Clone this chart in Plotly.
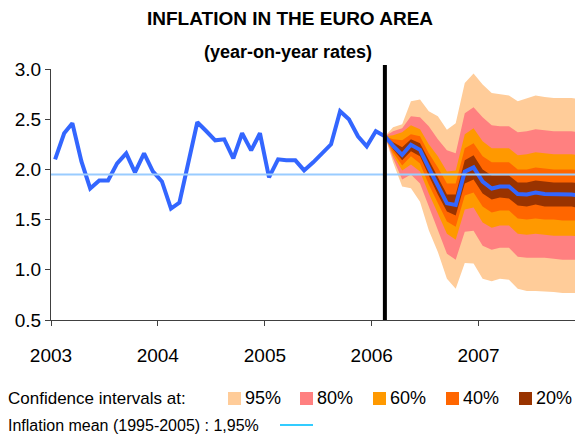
import pandas as pd
import plotly.graph_objects as go

# ---------------- data ----------------
# monthly observations, Jan 2003 .. Feb 2006 (year-on-year %, HICP)
HIST = [2.10, 2.36, 2.46, 2.08, 1.81, 1.89, 1.89, 2.06, 2.16, 1.97, 2.16, 1.98,
        1.88, 1.61, 1.67, 2.07, 2.47, 2.38, 2.29, 2.30, 2.11, 2.36, 2.19, 2.36,
        1.92, 2.10, 2.09, 2.09, 1.99, 2.07, 2.16, 2.25, 2.58, 2.50, 2.33, 2.23,
        2.38, 2.33]
# projection, Feb 2006 .. Dec 2007
PROJ = [2.33, 2.235, 2.145, 2.245, 2.195, 2.015, 1.835, 1.662, 1.645, 1.978, 2.02, 1.878,
        1.81, 1.83, 1.83, 1.755, 1.75, 1.77, 1.755, 1.75, 1.75, 1.75, 1.735]
UP95 = [2.33, 2.42, 2.45, 2.68, 2.695, 2.58, 2.53, 2.395, 2.46, 2.86, 2.955, 2.845,
        2.76, 2.745, 2.735, 2.68, 2.71, 2.735, 2.72, 2.71, 2.71, 2.71, 2.70]
LO95 = [2.33, 2.07, 1.83, 1.812, 1.678, 1.395, 1.178, 0.912, 0.812, 1.068, 1.062, 0.912,
        0.885, 0.912, 0.902, 0.812, 0.788, 0.788, 0.785, 0.778, 0.768, 0.768, 0.768]
UP80 = [2.33, 2.38, 2.41, 2.53, 2.52, 2.43, 2.30, 2.19, 2.16, 2.56, 2.62, 2.52,
        2.44, 2.43, 2.43, 2.37, 2.38, 2.40, 2.39, 2.38, 2.38, 2.38, 2.37]
LO80 = [2.33, 2.11, 1.90, 1.95, 1.86, 1.62, 1.40, 1.16, 1.10, 1.38, 1.39, 1.24,
        1.20, 1.22, 1.22, 1.13, 1.12, 1.12, 1.12, 1.11, 1.10, 1.10, 1.10]
UP60 = [2.33, 2.34, 2.37, 2.44, 2.40, 2.25, 2.13, 1.98, 1.99, 2.35, 2.41, 2.28,
        2.21, 2.21, 2.21, 2.14, 2.15, 2.17, 2.16, 2.15, 2.15, 2.15, 2.14]
LO60 = [2.33, 2.14, 1.99, 2.05, 1.98, 1.76, 1.56, 1.36, 1.30, 1.60, 1.62, 1.47,
        1.42, 1.44, 1.44, 1.36, 1.35, 1.36, 1.35, 1.34, 1.34, 1.34, 1.33]
UP40 = [2.33, 2.30, 2.29, 2.35, 2.33, 2.16, 2.02, 1.86, 1.86, 2.21, 2.26, 2.13,
        2.07, 2.07, 2.07, 2.00, 2.00, 2.02, 2.01, 2.00, 2.00, 2.00, 1.99]
LO40 = [2.33, 2.17, 2.04, 2.13, 2.06, 1.85, 1.66, 1.48, 1.43, 1.74, 1.77, 1.63,
        1.57, 1.59, 1.59, 1.51, 1.50, 1.51, 1.50, 1.50, 1.49, 1.49, 1.49]
UP20 = [2.33, 2.27, 2.22, 2.30, 2.26, 2.09, 1.92, 1.75, 1.75, 2.09, 2.14, 2.00,
        1.94, 1.94, 1.94, 1.87, 1.87, 1.89, 1.88, 1.87, 1.87, 1.87, 1.86]
LO20 = [2.33, 2.20, 2.09, 2.18, 2.13, 1.94, 1.75, 1.58, 1.54, 1.86, 1.90, 1.76,
        1.70, 1.72, 1.71, 1.64, 1.63, 1.65, 1.63, 1.63, 1.63, 1.63, 1.61]
INFLATION_MEAN = 1.95
BAND_LABELS = ["95%", "80%", "60%", "40%", "20%"]
START = "2003-01-01"
N_MONTHS = len(HIST) + len(PROJ) - 1
CUTOFF = "2006-02-15"

# ---------------- styling ----------------
BAND_COLORS = ["#FFCC99", "#FF8080", "#FF9900", "#FF6600", "#993300"]
LINE_BLUE = "#3366FF"
MEAN_COLOR = "#99CCFF"
FONT = "Liberation Sans, Arial, sans-serif"

dates = list(pd.date_range(START, periods=N_MONTHS, freq="MS") + pd.Timedelta(days=14))
proj_dates = dates[len(HIST) - 1:]

fig = go.Figure()
bands = [(UP95, LO95), (UP80, LO80), (UP60, LO60), (UP40, LO40), (UP20, LO20)]
for (up, lo), col in zip(bands, BAND_COLORS):
    fig.add_trace(go.Scatter(
        x=proj_dates + proj_dates[::-1], y=up + lo[::-1],
        fill="toself", fillcolor=col, mode="lines", line=dict(width=0, color=col),
        hoverinfo="skip", showlegend=False))

fig.add_trace(go.Scatter(x=dates, y=HIST + PROJ[1:], mode="lines",
                         line=dict(color=LINE_BLUE, width=4), showlegend=False))

fig.add_hline(y=INFLATION_MEAN, line=dict(color=MEAN_COLOR, width=2), layer="above")
fig.add_shape(type="line", xref="x", yref="paper", x0=CUTOFF, x1=CUTOFF, y0=0, y1=1.016,
              line=dict(color="black", width=4), layer="above")

# page body has an 8px margin, so the figure is drawn 8px in from the corner
OFF = 8
W, H = 583 - OFF, 437 - OFF
L, T = 51 - OFF, 69 - OFF          # plot area left/top in figure pixels
PW, PH = 532, 251
R, B = W - L - PW, H - T - PH

# helper: reference-image pixel -> paper coordinate
def px(x):
    return (x - 51) / PW


def py(y):
    return (320 - y) / PH


ann = [
    dict(text="<b>INFLATION IN THE EURO AREA</b>", x=px(290), y=py(19),
         font=dict(family=FONT, size=19, color="black")),
    dict(text="<b>(year-on-year rates)</b>", x=px(288), y=py(52),
         font=dict(family=FONT, size=18, color="black")),
    dict(text="Confidence intervals at:", x=px(6), y=py(398), xanchor="left",
         font=dict(family=FONT, size=17, color="black")),
    dict(text="Inflation mean (1995-2005) : 1,95%", x=px(6), y=py(425), xanchor="left",
         font=dict(family=FONT, size=16, color="black")),
]
sq_left = [228, 300, 373, 446, 519]
for lab, col, sx in zip(BAND_LABELS, BAND_COLORS, sq_left):
    fig.add_shape(type="rect", xref="paper", yref="paper", x0=px(sx), x1=px(sx + 13),
                  y0=py(405), y1=py(392), fillcolor=col, line=dict(width=0))
    ann.append(dict(text=lab, x=px(sx + 15), y=py(398), xanchor="left",
                    font=dict(family=FONT, size=18, color="black")))
fig.add_shape(type="line", xref="paper", yref="paper", x0=px(280), x1=px(313),
              y0=py(425), y1=py(425), line=dict(color="#33CCFF", width=2))
for a in ann:
    a.setdefault("xanchor", "center")
    a.update(xref="paper", yref="paper", yanchor="middle", showarrow=False)
fig.update_layout(annotations=ann)

fig.update_layout(
    width=W, height=H, autosize=False,
    margin=dict(l=L, r=R, t=T, b=B, pad=0),
    paper_bgcolor="white", plot_bgcolor="white",
    font=dict(family=FONT, size=19, color="black"),
    showlegend=False,
    xaxis=dict(type="date", range=[START, "2007-12-24"], tickformat="%Y", dtick="M12",
               tick0=START, ticks="outside", ticklen=5, tickcolor="#404040",
               showline=True, linecolor="#404040", linewidth=1, showgrid=False,
               zeroline=False, ticklabelstandoff=13,
               tickfont=dict(family=FONT, size=19, color="black")),
    yaxis=dict(range=[0.5, 3.0], dtick=0.5, tick0=0.5, tickformat=".1f",
               ticks="outside", ticklen=5, tickcolor="#404040",
               showline=True, linecolor="#404040", linewidth=1, showgrid=False,
               zeroline=False, tickfont=dict(family=FONT, size=19, color="black")),
)

fig.write_html("out.html")
